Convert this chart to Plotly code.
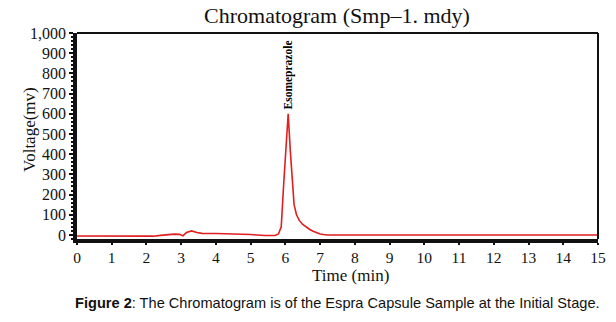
import plotly.graph_objects as go

time_min = [0, 0.5, 1.0, 1.5, 2.0, 2.2, 2.4, 2.6, 2.8, 2.95, 3.05, 3.15, 3.3, 3.45, 3.6, 4.0, 4.5, 5.0, 5.4, 5.6, 5.7, 5.8, 5.88, 5.95, 6.02, 6.08, 6.14, 6.2, 6.25, 6.32, 6.4, 6.5, 6.6, 6.7, 6.8, 6.9, 7.0, 7.1, 7.2, 7.5, 8, 9, 10, 11, 12, 13, 13.3, 13.6, 14, 14.5, 15]
voltage_mv = [-5, -5, -6, -6, -6, -6, -2, 2, 4, 3, -4, 12, 20, 12, 8, 7, 5, 2, -3, -5, -3, 5, 40, 250, 450, 600, 420, 250, 150, 100, 72, 52, 38, 27, 18, 10, 5, 2, 0, 0, 0, 0, 0, 0, 0, 0, -2, -1, 0, 0, 0]
x_ticks = list(range(0, 16))
y_ticks = list(range(0, 1001, 100))
peak_name = "Esomeprazole"
peak_time = 6.08
peak_height = 600

serif = "Liberation Serif, Times New Roman, serif"

fig = go.Figure()
fig.add_trace(go.Scatter(x=time_min, y=voltage_mv, mode="lines",
                         line=dict(color="#e01f1f", width=1.6), showlegend=False))

fig.add_annotation(x=peak_time, y=peak_height, text="<b>" + peak_name + "</b>",
                   textangle=-90, showarrow=False, yanchor="bottom", xanchor="center",
                   font=dict(family=serif, size=11.5, color="#000"), yshift=2)

# axis titles as annotations for exact placement
fig.add_annotation(xref="paper", yref="paper", x=0.524, y=-0.175, text="Time (min)",
                   showarrow=False, xanchor="center", yanchor="middle",
                   font=dict(family=serif, size=17, color="#111"))
fig.add_annotation(xref="paper", yref="paper", x=-0.09, y=0.53, text="Voltage(mv)",
                   textangle=-90, showarrow=False, xanchor="center", yanchor="middle",
                   font=dict(family=serif, size=17, color="#111"))

fig.add_annotation(xref="paper", yref="paper", x=0.5, y=-0.31,
                   text="<b>Figure 2</b>: The Chromatogram is of the Espra Capsule Sample at the Initial Stage.",
                   showarrow=False, xanchor="center", yanchor="middle",
                   font=dict(family="Liberation Sans, Arial, sans-serif", size=14.6, color="#111"))

fig.update_layout(
    width=616, height=322,
    margin=dict(l=77, r=18, t=33, b=83, autoexpand=False),
    paper_bgcolor="white", plot_bgcolor="white",
    title=dict(text="Chromatogram (Smp\u20131. mdy)", x=0.547, xanchor="center", y=0.953, yanchor="middle",
               automargin=False,
               font=dict(family=serif, size=22, color="#111")),
    xaxis=dict(range=[0, 15], tickvals=x_ticks, ticks="outside", ticklen=2, tickwidth=1.5,
               tickcolor="#111", showgrid=False, zeroline=False, automargin=False,
               showline=True, linecolor="#111", linewidth=3.5, mirror=False,
               tickfont=dict(family=serif, size=15.5, color="#111")),
    yaxis=dict(range=[-20, 1000], tickvals=y_ticks, tickformat=",", ticks="outside", ticklen=4,
               tickwidth=1.5, tickcolor="#111", showgrid=False, zeroline=False, automargin=False,
               showline=True, linecolor="#111", linewidth=3.5,
               minor=dict(ticks="outside", ticklen=2, tickcolor="#111", dtick=20, tick0=0),
               tickfont=dict(family=serif, size=16, color="#111")),
)
# thin top/right frame
fig.add_shape(type="line", xref="paper", yref="paper", x0=0, x1=1, y0=1, y1=1,
              line=dict(color="#111", width=2))
fig.add_shape(type="line", xref="paper", yref="paper", x0=1, x1=1, y0=0, y1=1,
              line=dict(color="#111", width=2))

fig.write_html("out.html", config={"displayModeBar": False},
               post_script="document.body.style.margin='0px';document.body.style.padding='0px';")
